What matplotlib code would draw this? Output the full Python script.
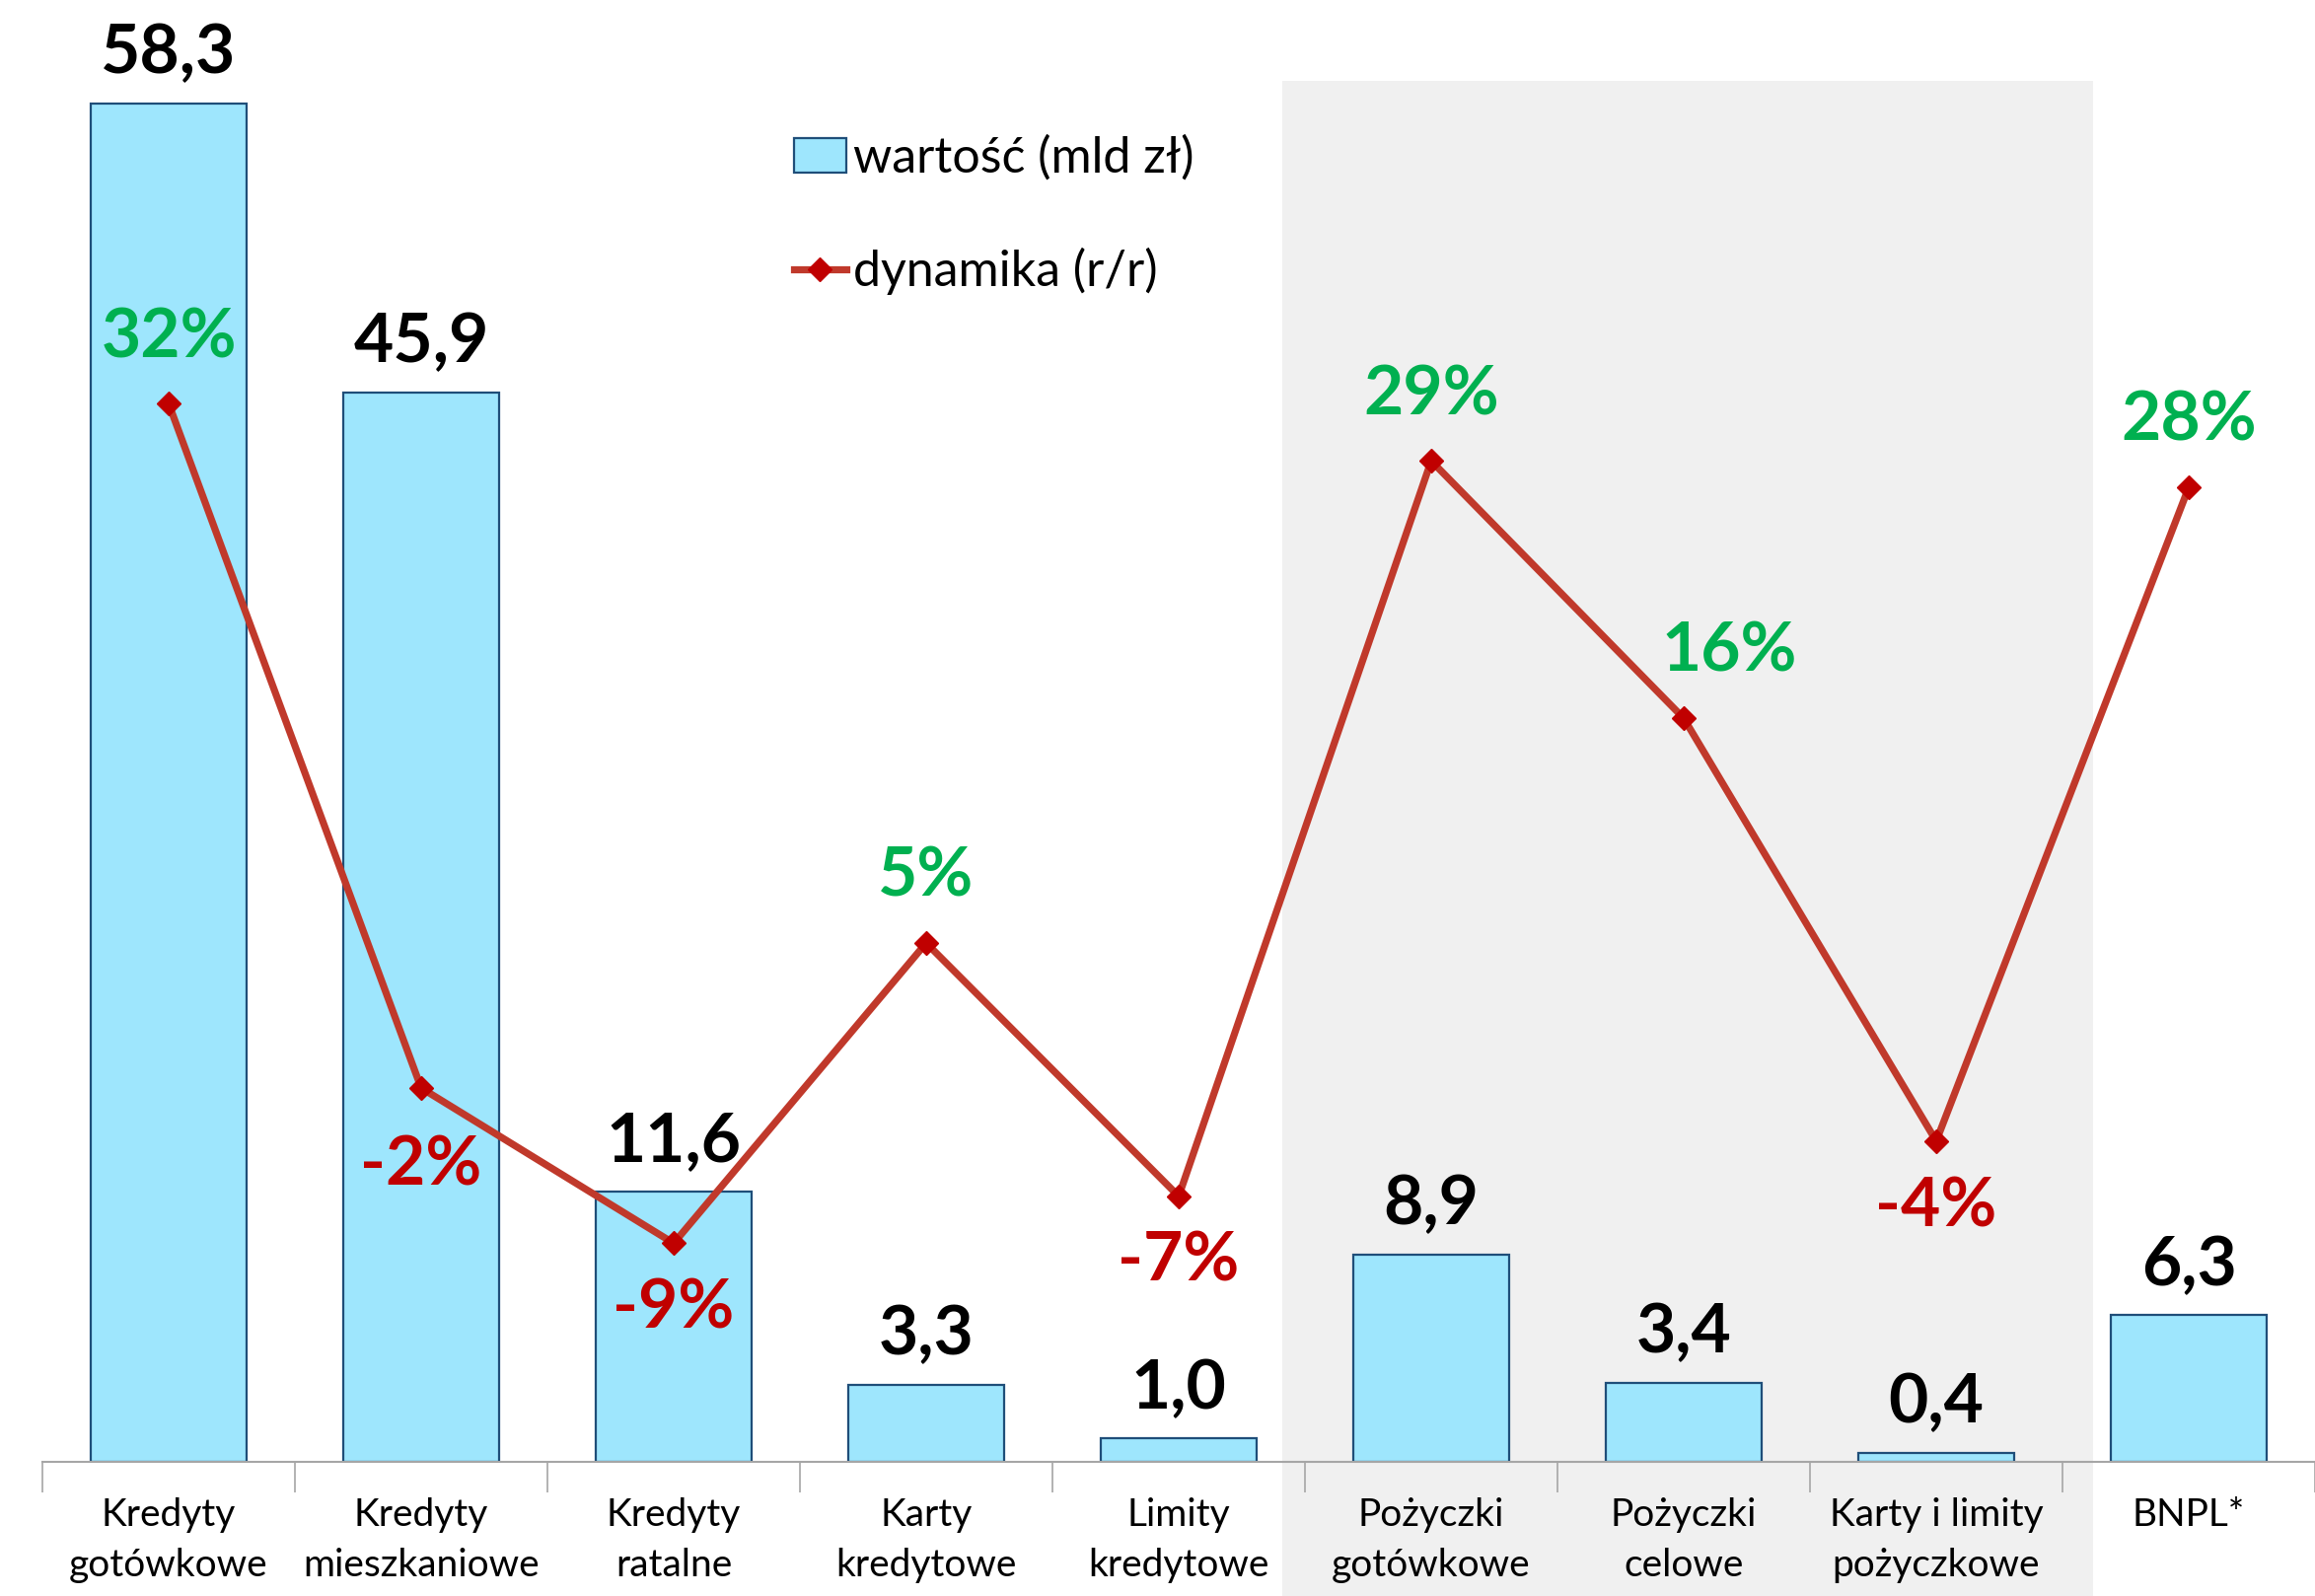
import matplotlib.pyplot as plt
import matplotlib.transforms as mtransforms
from matplotlib.patches import Rectangle
from matplotlib.lines import Line2D
from matplotlib.patches import Patch

plt.rcParams['font.family'] = ['Lato', 'DejaVu Sans']

# Data
categories = ['Kredyty\ngotówkowe', 'Kredyty\nmieszkaniowe', 'Kredyty\nratalne',
              'Karty\nkredytowe', 'Limity\nkredytowe', 'Pożyczki\ngotówkowe',
              'Pożyczki\ncelowe', 'Karty i limity\npożyczkowe', 'BNPL*']
values = [58.3, 45.9, 11.6, 3.3, 1.0, 8.9, 3.4, 0.4, 6.3]
growth = [31.8, -1.7, -9.3, 5.4, -7.0, 29.0, 16.4, -4.3, 27.7]
growth_labels = ['32%', '-2%', '-9%', '5%', '-7%', '29%', '16%', '-4%', '28%']

bar_fill = '#9EE6FD'
bar_edge = '#1F4E79'
line_col = '#C0392B'
marker_col = '#C00000'
green = '#00B050'
red = '#C00000'

fig = plt.figure(figsize=(23.47, 16.18), dpi=100)
ax = fig.add_axes([43 / 2347, 136 / 1618, 1 - 43 / 2347, 1400 / 1618])
ax.patch.set_visible(False)
x = list(range(len(categories)))

# grey band behind the "pożyczki" group (spans to the bottom of the figure)
trans = mtransforms.blended_transform_factory(ax.transData, fig.transFigure)
band = Rectangle((4.41, 0), 7.62 - 4.41, (1618 - 82) / 1618, transform=trans,
                 facecolor='#F0F0F0', edgecolor='none', zorder=-10)
fig.patches.append(band)

bars = ax.bar(x, values, width=0.62, color=bar_fill, edgecolor=bar_edge, linewidth=1.6, zorder=2)
for xi, v in zip(x, values):
    ax.annotate(f'{v:.1f}'.replace('.', ','), (xi, v), xytext=(0, 22), textcoords='offset points',
                ha='center', va='baseline', fontsize=50, fontweight='bold', color='black',
                annotation_clip=False)

ax.set_xlim(-0.5, 8.5)
ax.set_ylim(0, 1400 / 23.62)
ax.set_yticks([])
for s in ['left', 'right', 'top']:
    ax.spines[s].set_visible(False)
ax.spines['bottom'].set_color('#A6A6A6')
ax.spines['bottom'].set_linewidth(1.5)
ax.set_xticks(x)
ax.set_xticklabels(categories, fontsize=28, linespacing=1.5)
ax.tick_params(axis='x', which='major', length=0, pad=26)
ax.set_xticks([i + 0.5 for i in range(-1, 9)], minor=True)
ax.tick_params(axis='x', which='minor', length=22, width=1.2, color='#A6A6A6')

# growth line on secondary axis
ax2 = ax.twinx()
ax2.patch.set_visible(False)
ax2.plot(x, growth, color=line_col, linewidth=5.2, marker='D', markersize=12,
         markerfacecolor=marker_col, markeredgecolor=marker_col, zorder=3)
ax2.set_ylim(-20, 47.6)
ax2.set_yticks([])
for s in ['left', 'right', 'top', 'bottom']:
    ax2.spines[s].set_visible(False)

dx = {6: 33}
dy = {1: -57}
for xi, g, lab in zip(x, growth, growth_labels):
    off = dy.get(xi, 48 if g > 0 else -48)
    ax2.annotate(lab, (xi, g), xytext=(dx.get(xi, 0), off), textcoords='offset points',
                 ha='center', va='center', fontsize=50, fontweight='bold',
                 color=green if g > 0 else red, annotation_clip=False)

handles = [Patch(facecolor=bar_fill, edgecolor=bar_edge, linewidth=1.6),
           Line2D([], [], color=line_col, linewidth=5.2, marker='D', markersize=12,
                  markerfacecolor=marker_col, markeredgecolor=marker_col)]
fig.legend(handles, ['wartość (mld zł)', 'dynamika (r/r)'], loc='upper left',
           bbox_to_anchor=(760 / 2347, 1 - 92 / 1618), frameon=False, fontsize=36,
           handlelength=1.05, handletextpad=0.15, labelspacing=1.35)

fig.savefig('out.png', dpi=100)
